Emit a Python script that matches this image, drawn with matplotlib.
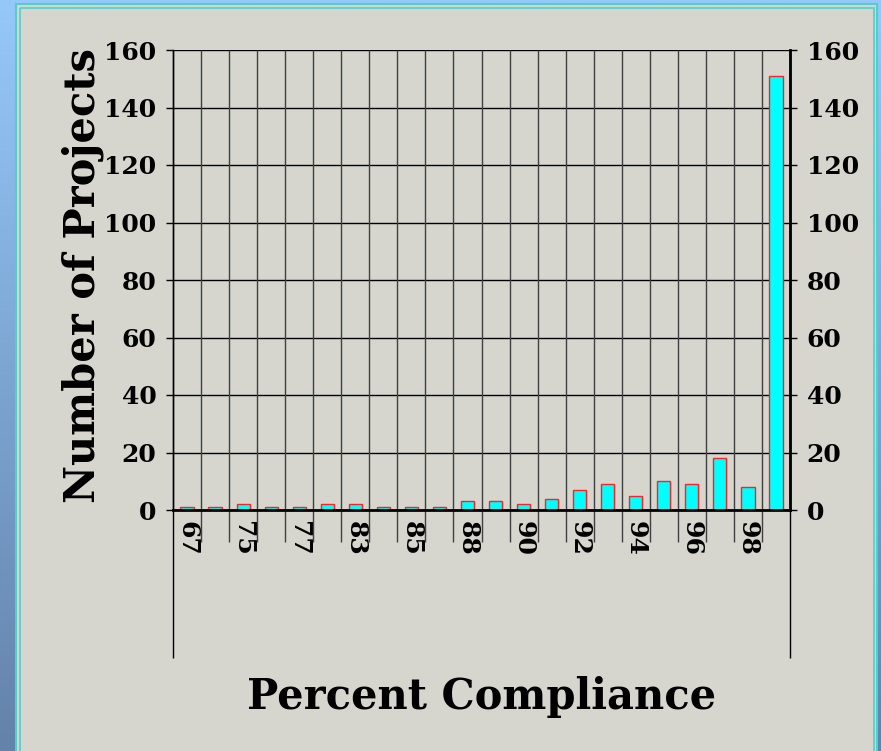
import matplotlib.pyplot as plt
import numpy as np
from matplotlib.patches import Rectangle

# percent compliance categories (every other one is labelled on the chart)
categories = ["67", "72", "75", "76", "77", "80", "83", "84", "85", "86", "88",
              "89", "90", "91", "92", "93", "94", "95", "96", "97", "98", "100"]
counts = [1, 1, 2, 1, 1, 2, 2, 1, 1, 1, 3,
          3, 2, 4, 7, 9, 5, 10, 9, 18, 8, 151]
yticks = [0, 20, 40, 60, 80, 100, 120, 140, 160]

W, H = 881, 751
fig = plt.figure(figsize=(W / 100, H / 100), dpi=100)

# background: blue gradient strip + grey panel with cyan border
bg = fig.add_axes([0, 0, 1, 1], zorder=-10)
grad = np.linspace(0, 1, 256).reshape(-1, 1)
top_col = np.array([150, 200, 250]) / 255
bot_col = np.array([100, 130, 170]) / 255
img = top_col + (bot_col - top_col) * grad[:, :, None]
bg.imshow(img, aspect="auto", extent=[0, W, H, 0])
bg.set_xlim(0, W)
bg.set_ylim(H, 0)
bg.axis("off")
bg.add_patch(Rectangle((16, 4), 861, 760, facecolor="#d6d6cf",
                       edgecolor="#4fd0cc", linewidth=1.5))
bg.add_patch(Rectangle((19.5, 7.5), 854, 760, facecolor="none",
                       edgecolor="#4fd0cc", linewidth=1.2))

left, right, top, bottom = 173, 790, 50, 510
ax = fig.add_axes([left / W, 1 - bottom / H, (right - left) / W, (bottom - top) / H])
ax.set_facecolor("none")

x = np.arange(len(categories))
ax.bar(x, counts, width=0.47, color="#00ffff", edgecolor="#ff2020",
       linewidth=1.0, zorder=3)

ax.set_xlim(-0.5, len(categories) - 0.5)
ax.set_ylim(0, 160)
ax.set_yticks(yticks)
ax.yaxis.grid(True, color="black", linewidth=1.0, zorder=0)
ax.set_axisbelow(True)

serif = ["DejaVu Serif"]
ax.set_yticklabels([str(v) for v in yticks], fontsize=18, fontweight="bold",
                   family=serif)
ax.tick_params(axis="y", which="both", left=True, right=True, labelleft=True,
               labelright=True, direction="out", length=5, width=1, pad=7,
               labelsize=18)
for lab in ax.get_yticklabels(which="both"):
    lab.set_fontweight("bold")
    lab.set_family(serif)

ax.set_xticks(x[::2])
ax.set_xticklabels(categories[::2], rotation=270, fontsize=18, fontweight="bold",
                   family=serif, va="top", ha="center")
ax.tick_params(axis="x", length=0, pad=8)

# vertical grid lines at category boundaries, extended below the axis
bounds = np.arange(len(categories) + 1) - 0.5
trans = ax.get_xaxis_transform()
ax.vlines(bounds[1:-1], -0.07, 1, transform=trans, color="#404040",
          linewidth=1.0, clip_on=False, zorder=1)
ax.vlines([bounds[0], bounds[-1]], -0.322, 1, transform=trans, color="black",
          linewidth=1.0, clip_on=False, zorder=1)

for side in ["top", "bottom"]:
    ax.spines[side].set_visible(False)
ax.spines["left"].set_linewidth(1.0)
ax.spines["right"].set_linewidth(2.0)
ax.axhline(0, color="black", linewidth=2.0, zorder=4, clip_on=False)

ax.set_ylabel("Number of Projects", fontsize=30, fontweight="bold",
              family=serif)
ax.yaxis.set_label_coords(-0.112, 0.51)
ax.set_xlabel("Percent Compliance", fontsize=30, fontweight="bold",
              family=serif)
ax.xaxis.set_label_coords(0.5, -0.36)

fig.savefig("out.png", dpi=100)
